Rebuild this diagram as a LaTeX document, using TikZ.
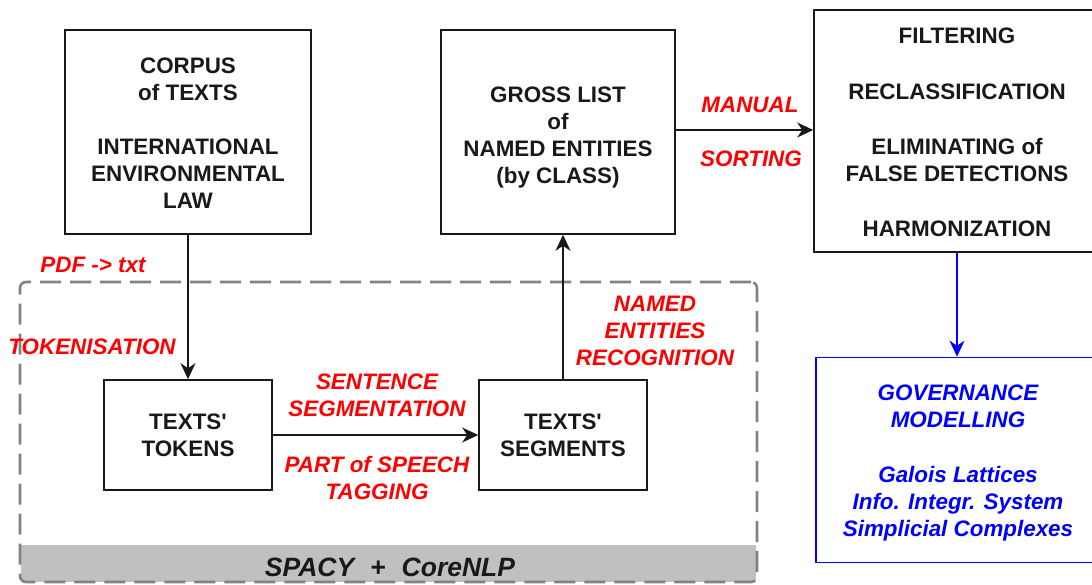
\documentclass[tikz,border=0pt]{standalone}
\usepackage{fontspec}
\setmainfont{Liberation Sans}
\usetikzlibrary{arrows.meta}
\definecolor{dashgray}{RGB}{130,130,130}
\definecolor{bargray}{RGB}{192,192,192}
\definecolor{txtblack}{RGB}{25,25,25}
\begin{document}
\begin{tikzpicture}[x=1pt,y=-1pt,
  box/.style={draw=txtblack, line width=1.6pt, text=txtblack,
    font=\fontsize{22.4}{27}\selectfont\bfseries, align=center, inner sep=0pt},
  bluebox/.style={draw=blue, line width=1.6pt, text=blue,
    font=\fontsize{22.4}{27}\selectfont\bfseries\itshape, align=center, inner sep=0pt},
  lab/.style={text=red, font=\fontsize{22.4}{27}\selectfont\bfseries\itshape,
    align=center, inner sep=0pt},
  arr/.style={line width=1.5pt, draw=txtblack, -{Stealth[length=16pt,width=15pt,inset=5pt]}},
  bluearr/.style={line width=1.5pt, draw=blue, -{Stealth[length=16pt,width=15pt,inset=5pt]}},
 ]
\useasboundingbox (0,0) rectangle (1092,585);
\clip (0,0) rectangle (1092,585);

% NLP container
\fill[bargray] (21,545) rectangle (756,582);
\node[draw=dashgray, line width=2.6pt, dash pattern=on 21pt off 9pt, rounded corners=6pt,
  minimum width=737pt, minimum height=300pt, inner sep=0pt] (nlp) at (388.5,432) {};
\node[font=\fontsize{26.5}{30}\selectfont\bfseries\itshape, text=txtblack, inner sep=0pt]
  (spacy) at (390,567) {SPACY\hspace{16pt}+\hspace{16pt}CoreNLP};

% boxes
\node[box, minimum width=246pt, minimum height=204pt] (corpus) at (188,132)
  {\rule{0pt}{18pt}CORPUS\\of TEXTS\\[27pt]INTERNATIONAL\\ENVIRONMENTAL\\LAW};
\node[box, minimum width=234pt, minimum height=204pt] (gross) at (558,132)
  {\rule{0pt}{26pt}GROSS LIST\\of\\NAMED ENTITIES\\(by CLASS)};
\node[box, minimum width=286pt, minimum height=242pt] (filter) at (957,131)
  {\rule{0pt}{18pt}FILTERING\\[29pt]RECLASSIFICATION\\[28pt]ELIMINATING of\\FALSE DETECTIONS\\[28pt]HARMONIZATION};
\node[bluebox, minimum width=284pt, minimum height=205pt] (gov) at (958,460)
  {\rule{0pt}{22pt}GOVERNANCE\\MODELLING\\[28pt]Galois Lattices\\Info. Integr. System\\Simplicial Complexes};
\node[box, minimum width=168pt, minimum height=110pt] (tokens) at (188,435)
  {TEXTS\textquotesingle\\TOKENS};
\node[box, minimum width=168pt, minimum height=110pt] (segments) at (563,435)
  {TEXTS\textquotesingle\\SEGMENTS};

% connectors
\draw[arr] (corpus.south) -- (tokens.north);
\draw[arr] (tokens.east) -- (segments.west);
\draw[arr] (segments.north) -- (segments.north |- gross.south);
\draw[arr] (gross.east |- 0,130) -- (filter.west |- 0,130);
\draw[bluearr] (filter.south) -- (filter.south |- gov.north);

% labels
\node[lab] (pdf) at (93,265) {PDF -> txt};
\node[lab] (tok) at (92,347) {TOKENISATION};
\node[lab] (sent) at (377,395) {SENTENCE\\SEGMENTATION};
\node[lab] (pos) at (377,478) {PART of SPEECH\\TAGGING};
\node[lab] (ner) at (655,331) {NAMED\\ENTITIES\\RECOGNITION};
\node[lab] (manual) at (750,105) {MANUAL};
\node[lab] (sorting) at (751,159) {SORTING};
\end{tikzpicture}
\end{document}
